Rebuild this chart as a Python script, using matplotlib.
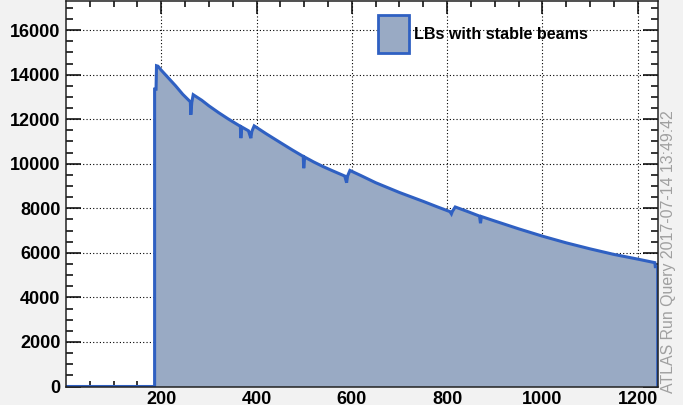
import matplotlib
matplotlib.use("Agg")
import matplotlib.pyplot as plt
from matplotlib.patches import Patch

# Data (lumiblock, value)
lumiblocks = [186, 189, 190, 193, 200, 215, 230, 245, 261, 262, 264, 267, 285, 300, 320,
              340, 366, 367, 369, 383, 388, 390, 395, 420, 450, 475, 498, 499, 501, 520,
              540, 560, 585, 589, 591, 596, 620, 650, 700, 750, 780, 806, 809, 811, 817,
              840, 868, 870, 872, 900, 950, 1000, 1050, 1100, 1150, 1200, 1236, 1237, 1242]
values = [13350, 13350, 14400, 14380, 14200, 13850, 13500, 13120, 12780, 12200, 12750, 13100,
          12850, 12600, 12300, 12020, 11680, 11150, 11650, 11480, 11150, 11450, 11700, 11350,
          10950, 10620, 10330, 9800, 10300, 10080, 9870, 9680, 9450, 9150, 9450, 9700, 9460,
          9150, 8710, 8310, 8060, 7850, 7750, 7860, 8060, 7880, 7650, 7330, 7630, 7430, 7080,
          6750, 6450, 6180, 5930, 5720, 5560, 5380, 5380]

x_major = [200, 400, 600, 800, 1000, 1200]
x_labels = ["200", "400", "600", "800", "1000", "1200"]
y_major = [0, 2000, 4000, 6000, 8000, 10000, 12000, 14000, 16000]
y_labels = ["0", "2000", "4000", "6000", "8000", "10000", "12000", "14000", "16000"]
legend_label = "LBs with stable beams"
stamp = "ATLAS Run Query 2017-07-14 13:49:42"

fill_color = "#99aac4"
line_color = "#2f60c2"

fig = plt.figure(figsize=(6.83, 4.05), dpi=100, facecolor="#f2f2f2")
ax = fig.add_axes([66 / 683, 18.5 / 405, (657.7 - 66) / 683, (386.5 - 0.5) / 405])
ax.set_facecolor("white")

ax.set_xlim(0, lumiblocks[-1])
ax.set_ylim(0, 17330)

# grid (below the filled histogram)
for v in x_major:
    ax.axvline(v, color="black", lw=0.8, ls=(0, (1, 2)), zorder=1)
for v in y_major[1:]:
    ax.axhline(v, color="black", lw=0.8, ls=(0, (1, 2)), zorder=1)

xs = [0, lumiblocks[0]] + lumiblocks + [lumiblocks[-1]]
ys = [0, 0] + values + [0]
ax.fill_between(xs, ys, 0, color=fill_color, lw=0, zorder=1.8)
ax.plot(xs, ys, color=line_color, lw=2.2, zorder=2.2, solid_joinstyle="miter")

font = "Liberation Sans"
ax.set_xticks(x_major)
ax.set_xticklabels(x_labels, fontfamily=font, fontweight="bold", fontsize=13)
ax.set_yticks(y_major)
ax.set_yticklabels(y_labels, fontfamily=font, fontweight="bold", fontsize=13)
ax.set_xticks(range(50, 1250, 50), minor=True)
ax.set_yticks(range(500, 17330, 500), minor=True)

ax.tick_params(axis="y", which="major", direction="in", length=10.8, width=1.1,
               left=True, right=True, pad=4)
ax.tick_params(axis="y", which="minor", direction="in", length=5.3, width=1.1,
               left=True, right=True)
ax.tick_params(axis="x", which="major", direction="in", length=9.1, width=1.1,
               bottom=True, top=True, pad=3)
ax.tick_params(axis="x", which="minor", direction="in", length=4.3, width=1.1,
               bottom=True, top=True)
for s in ax.spines.values():
    s.set_linewidth(1.1)
    s.set_color("#222222")

# legend
handle = Patch(facecolor=fill_color, edgecolor=line_color, linewidth=2.0)
leg = ax.legend([handle], [legend_label], loc="upper left",
                bbox_to_anchor=((378 - 66) / (657.7 - 66), 1 - 15 / 386),
                frameon=False, handlelength=1.9, handleheight=3.16,
                handletextpad=0.35, borderaxespad=0, borderpad=0,
                prop={"family": font, "weight": "bold", "size": 11.6})

fig.text(668 / 683, 12 / 405, stamp, rotation=90, ha="center", va="bottom",
         color="#a0a0a0", fontfamily=font, fontsize=11.4)

fig.savefig("out.png", dpi=100, facecolor=fig.get_facecolor())
